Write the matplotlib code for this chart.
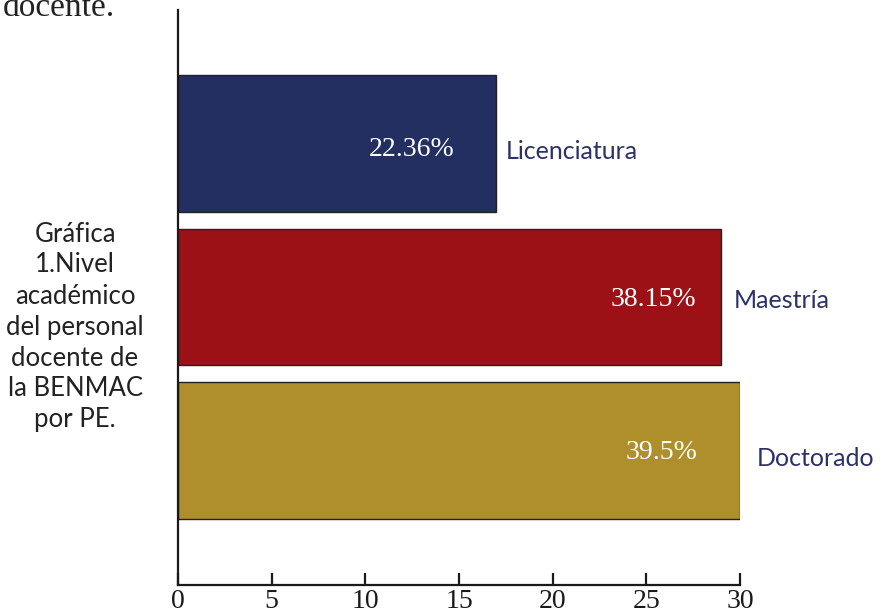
import matplotlib
matplotlib.use('Agg')
from matplotlib import pyplot as plt

categories = ['Licenciatura', 'Maestría', 'Doctorado']
values = [17, 29, 30]
value_labels = ['22.36%', '38.15%', '39.5%']
colors = ['#222f60', '#9c1116', '#af8f2b']
xticks = [0, 5, 10, 15, 20, 25, 30]
side_text = 'Gráfica\n1.Nivel\nacadémico\ndel personal\ndocente de\nla BENMAC\npor PE.'

# offsets (points) for the labels, inside and beside the bars
inner_offsets = [(-30, -4), (-18, -1.5), (-31, -1.5)]
outer_offsets = [(7, -6), (9, -2.5), (12, -6)]

fig = plt.figure(figsize=(8.81, 6.15), dpi=100)
ax = fig.add_axes([178 / 881, 30 / 615, 562 / 881, 575 / 615])

y = list(range(len(categories)))
ax.barh(y, values, height=0.89, color=colors, edgecolor='#222222', linewidth=1)
ax.set_ylim(2.876, -0.87)
ax.set_xlim(0, 30)

for i, v in enumerate(values):
    ax.annotate(value_labels[i], xy=(v, y[i]), xytext=inner_offsets[i],
                textcoords='offset points', ha='right', va='center',
                color='white', fontsize=20, family='Liberation Serif')
    ax.annotate(categories[i], xy=(v, y[i]), xytext=outer_offsets[i],
                textcoords='offset points', ha='left', va='center',
                color='#2a3268', fontsize=18, family='Lato')

for s in ['top', 'right']:
    ax.spines[s].set_visible(False)
ax.spines['left'].set_linewidth(1.6)
ax.spines['bottom'].set_linewidth(1.6)
ax.spines['left'].set_color('#1a1a1a')
ax.spines['bottom'].set_color('#1a1a1a')
ax.set_yticks([])
ax.set_xticks(xticks)
ax.tick_params(axis='x', direction='in', length=9, width=1.6, pad=3,
               labelsize=20, colors='#1a1a1a')
for lbl in ax.get_xticklabels():
    lbl.set_family('Liberation Serif')

fig.text(75 / 881, 1 - 327 / 615, side_text, ha='center', va='center',
         fontsize=18.5, family='Lato', color='#222222', linespacing=1.3)
fig.text(3 / 881, 1 - 16 / 615, 'docente.', ha='left', va='baseline',
         fontsize=24, family='Liberation Serif', color='#222222')

fig.savefig('out.png', dpi=100)
